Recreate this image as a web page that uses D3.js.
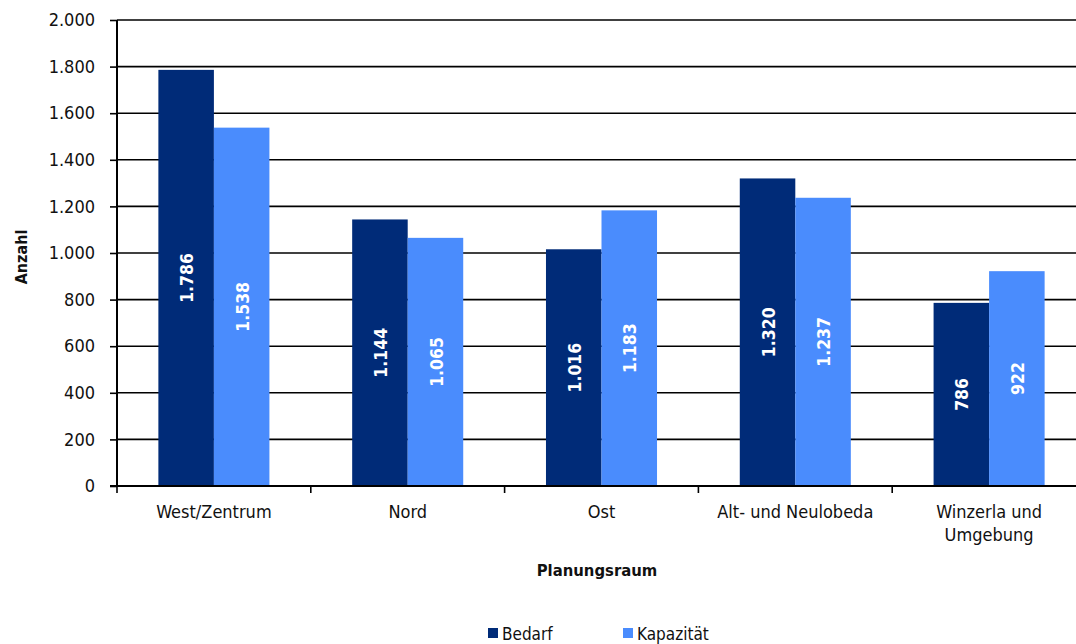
<!DOCTYPE html>
<html><head><meta charset="utf-8">
<script src="https://cdn.jsdelivr.net/npm/d3@7"></script>
<style>body{margin:0;background:#fff}svg{display:block}text{font-family:"DejaVu Sans Condensed","DejaVu Sans",sans-serif}</style>
</head><body><svg id="c" width="1076" height="644"></svg>
<script>
const categories = [["West/Zentrum"],["Nord"],["Ost"],["Alt- und Neulobeda"],["Winzerla und","Umgebung"]];
const seriesNames = ["Bedarf","Kapazität"];
const bedarf = [1786,1144,1016,1320,786];
const kapazitaet = [1538,1065,1183,1237,922];
const yTicks = [0,200,400,600,800,1000,1200,1400,1600,1800,2000];
const colors = ["#002b78","#4a8cfd"];

(function(){
const svg = d3.select("#c");
const fmt = v => d3.format(",")(v).replace(/,/g,".");
const pL = 117, pR = 1086, pT = 20, pB = 486;
const x = d3.scaleBand().domain(d3.range(categories.length)).range([pL,pR]).paddingInner(0.427).paddingOuter(0.2135);
const xs = d3.scaleBand().domain([0,1]).range([0,x.bandwidth()]);
const y = d3.scaleLinear().domain([0,2000]).range([pB,pT]);

svg.append("g").selectAll("line").data(yTicks.filter(d=>d>0)).join("line")
  .attr("x1",pL).attr("x2",1076).attr("y1",d=>y(d)).attr("y2",d=>y(d))
  .attr("stroke","#000").attr("stroke-width",1.6);

const series = [bedarf,kapazitaet];
series.forEach((vals,si)=>{
  const g = svg.append("g");
  g.selectAll("rect").data(vals).join("rect")
    .attr("x",(d,i)=>x(i)+xs(si)).attr("width",xs.bandwidth())
    .attr("y",d=>y(d)).attr("height",d=>pB-y(d)).attr("fill",colors[si]);
  g.selectAll("text").data(vals).join("text")
    .attr("transform",(d,i)=>`translate(${x(i)+xs(si)+xs.bandwidth()/2+1},${(y(d)+pB)/2}) rotate(-90)`)
    .attr("text-anchor","middle").attr("dy","0.35em")
    .attr("fill","#fff").attr("font-weight","bold").attr("font-size",17.5)
    .text(d=>fmt(d));
});

const ya = svg.append("g").attr("transform",`translate(${pL},0)`)
  .call(d3.axisLeft(y).tickValues(yTicks).tickFormat(fmt).tickSize(7).tickPadding(15));
ya.select(".domain").attr("stroke","#000").attr("stroke-width",2).attr("d",`M0,${pT}V${pB}`);
ya.selectAll(".tick line").attr("stroke","#000").attr("stroke-width",1.6);
ya.selectAll(".tick text").attr("font-size",18).attr("fill","#111").attr("font-family","DejaVu Sans Condensed");

svg.append("line").attr("x1",pL-7).attr("x2",1076).attr("y1",pB).attr("y2",pB).attr("stroke","#000").attr("stroke-width",2);
const tickPos = d3.range(categories.length+1).map(i=>pL + i*x.step());
svg.append("g").selectAll("line").data(tickPos.filter(p=>p<1076)).join("line")
  .attr("x1",d=>d).attr("x2",d=>d).attr("y1",pB).attr("y2",pB+7).attr("stroke","#000").attr("stroke-width",1.6);
const xl = svg.append("g").selectAll("text").data(categories).join("text")
  .attr("x",(d,i)=>x(i)+x.bandwidth()/2).attr("y",518).attr("text-anchor","middle")
  .attr("font-size",18).attr("fill","#111");
xl.each(function(d){ const tx=d3.select(this).attr("x"); d3.select(this).selectAll("tspan").data(d).join("tspan")
  .attr("x",tx).attr("dy",(t,j)=>j?"1.3em":0).text(t=>t); });

svg.append("text").attr("x",597).attr("y",576).attr("text-anchor","middle").attr("font-weight","bold").attr("font-size",16.5).attr("fill","#111").text("Planungsraum");
svg.append("text").attr("transform","translate(27,257) rotate(-90)").attr("text-anchor","middle").attr("font-weight","bold").attr("font-size",16).attr("fill","#111").text("Anzahl");

const legX = [488,623];
seriesNames.forEach((n,i)=>{
  svg.append("rect").attr("x",legX[i]).attr("y",628).attr("width",10).attr("height",10).attr("fill",colors[i]);
  svg.append("text").attr("x",legX[i]+14).attr("y",640).attr("font-size",17).attr("fill","#111").text(n);
});
})();
</script></body></html>
